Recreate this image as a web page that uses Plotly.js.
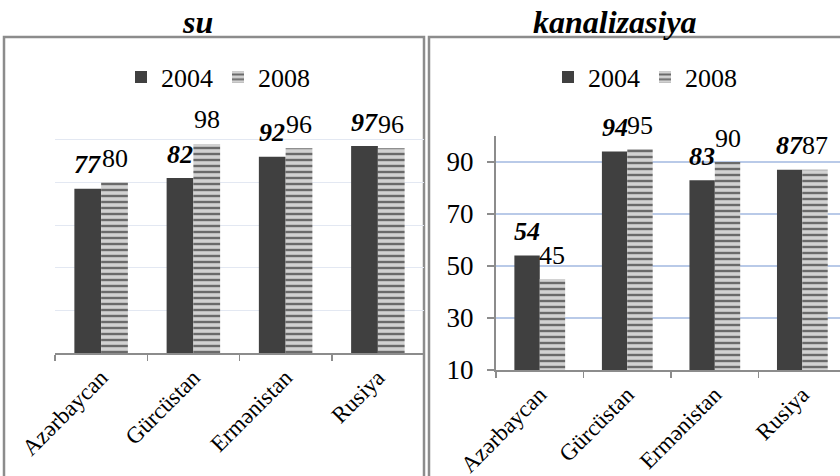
<!DOCTYPE html>
<html><head><meta charset="utf-8">
<script src="https://cdn.plot.ly/plotly-3.0.1.min.js"></script>
<style>html,body{margin:0;padding:0;overflow:hidden;background:#fff}</style>
</head><body><div id="chart" style="width:840px;height:476px"></div>
<script>
const categories = ["Azərbaycan", "Gürcüstan", "Ermənistan", "Rusiya"];
const seriesNames = ["2004", "2008"];
const su2004 = [77, 82, 92, 97];
const su2008 = [80, 98, 96, 96];
const kan2004 = [54, 94, 83, 87];
const kan2008 = [45, 95, 90, 87];
const panelTitles = ["su", "kanalizasiya"];
const kanTicks = [10, 30, 50, 70, 90];

const W = 840, H = 476;
const FONT = "Liberation Serif";
const dark = "#404040";
const pattern = {shape: "-", bgcolor: "#d2d2d2", fgcolor: "#6a6a6a", size: 6, solidity: 0.4};
const bargap = 0.42;

function barTrace(vals, name, xa, ya, leg, patterned) {
  const t = {type: "bar", x: categories, y: vals, name: name, xaxis: xa, yaxis: ya,
    legend: leg, showlegend: true, hoverinfo: "skip"};
  if (patterned) t.marker = {color: "#d2d2d2", pattern: pattern, line: {width: 0}};
  else t.marker = {color: dark, line: {width: 0}};
  return t;
}

const data = [
  barTrace(su2004, seriesNames[0], "x", "y", "legend", false),
  barTrace(su2008, seriesNames[1], "x", "y", "legend", true),
  barTrace(kan2004, seriesNames[0], "x2", "y2", "legend2", false),
  barTrace(kan2008, seriesNames[1], "x2", "y2", "legend2", true)
];

const annotations = [];
const off = (1 - bargap) / 4;
function labels(vals, xr, yr, dx, bold) {
  vals.forEach((v, i) => {
    annotations.push({xref: xr, yref: yr, x: i + dx, y: v, text: String(v), showarrow: false,
      yanchor: "middle", xanchor: "center", yshift: 24,
      font: {family: FONT, size: 26, color: "#000", weight: bold ? "bold" : "normal", style: bold ? "italic" : "normal"}});
  });
}
labels(su2004, "x", "y", -off, true);
labels(su2008, "x", "y", off, false);
labels(kan2004, "x2", "y2", -off, true);
labels(kan2008, "x2", "y2", off, false);

annotations.push({xref: "paper", yref: "paper", x: 197 / W, y: 1 - 22 / H, text: panelTitles[0], showarrow: false,
  xanchor: "center", yanchor: "middle", font: {family: FONT, size: 32, color: "#000", weight: "bold", style: "italic"}});
annotations.push({xref: "paper", yref: "paper", x: 615 / W, y: 1 - 22 / H, text: panelTitles[1], showarrow: false,
  xanchor: "center", yanchor: "middle", font: {family: FONT, size: 32, color: "#000", weight: "bold", style: "italic"}});

const boxLine = {color: "#8c8c8c", width: 2.5};
const shapes = [
  {type: "rect", xref: "paper", yref: "paper", x0: 4 / W, x1: 424 / W, y0: -0.1, y1: 1 - 37 / H, line: boxLine, layer: "below"},
  {type: "rect", xref: "paper", yref: "paper", x0: 429 / W, x1: 1.1, y0: -0.1, y1: 1 - 37 / H, line: boxLine, layer: "below"}
];

const xCommon = {type: "category", showline: true, linecolor: "#8c8c8c", linewidth: 2,
  ticks: "outside", tickson: "boundaries", ticklen: 6, tickcolor: "#8c8c8c", tickwidth: 1.5,
  showgrid: false, tickangle: -45, tickfont: {family: FONT, size: 23, color: "#000"}, fixedrange: true};

const layout = {
  width: W, height: H,
  margin: {l: 0, r: 0, t: 0, b: 0},
  paper_bgcolor: "#fff", plot_bgcolor: "rgba(0,0,0,0)",
  font: {family: FONT, color: "#000"},
  barmode: "group", bargap: bargap, bargroupgap: 0,
  xaxis: Object.assign({}, xCommon, {domain: [55 / W, 424 / W], range: [-0.5, 3.5], anchor: "y"}),
  yaxis: {domain: [1 - 353 / H, 1 - 97 / H], range: [0, 120], dtick: 20, showticklabels: false,
    showline: false, ticks: "", gridcolor: "#e3e8f2", gridwidth: 1, zeroline: false, anchor: "x", fixedrange: true},
  xaxis2: Object.assign({}, xCommon, {domain: [496 / W, 1], range: [-0.5, 3.43], anchor: "y2"}),
  yaxis2: {domain: [1 - 370 / H, 1 - 136 / H], range: [10, 100], tickvals: kanTicks,
    showline: true, linecolor: "#8c8c8c", linewidth: 2, ticks: "outside", ticklen: 7, tickcolor: "#8c8c8c", tickwidth: 1.5,
    ticklabelstandoff: 8,
    gridcolor: "#b9cae8", gridwidth: 1.5, zeroline: false, anchor: "x2",
    tickfont: {family: FONT, size: 27, color: "#000"}, fixedrange: true},
  legend: {x: 218 / W, y: 1 - 77 / H, xanchor: "center", yanchor: "middle", orientation: "h",
    font: {family: FONT, size: 26, color: "#000"}, itemwidth: 30, bgcolor: "rgba(0,0,0,0)", traceorder: "normal"},
  legend2: {x: 645 / W, y: 1 - 77 / H, xanchor: "center", yanchor: "middle", orientation: "h",
    font: {family: FONT, size: 26, color: "#000"}, itemwidth: 30, bgcolor: "rgba(0,0,0,0)", traceorder: "normal"},
  annotations: annotations,
  shapes: shapes,
  hovermode: false
};

Plotly.newPlot("chart", data, layout, {displayModeBar: false, staticPlot: true});
</script></body></html>
